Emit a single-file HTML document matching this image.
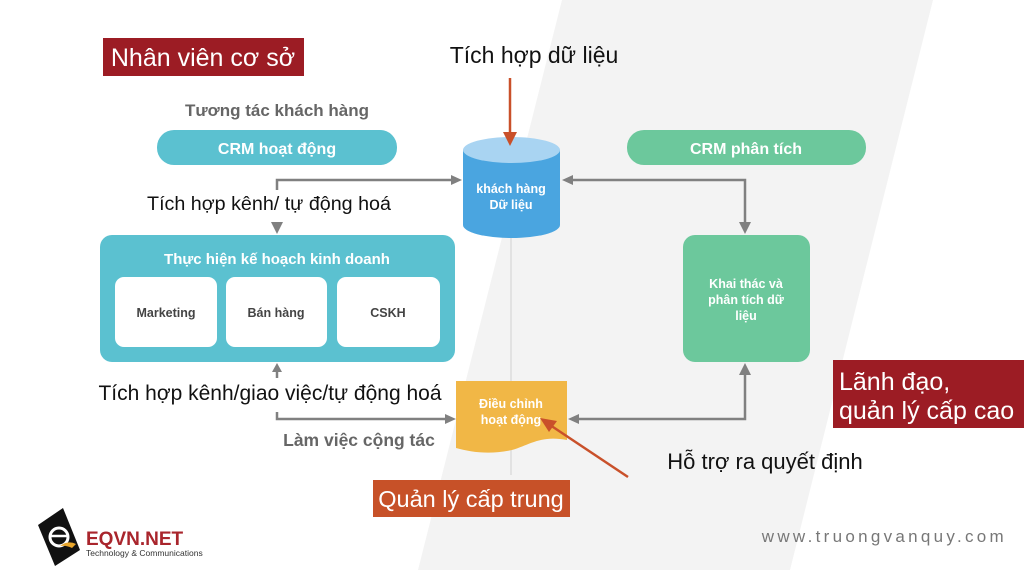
<!DOCTYPE html>
<html><head><meta charset="utf-8"><style>
body{margin:0;width:1024px;height:570px;overflow:hidden;background:#fff;font-family:"Liberation Sans",sans-serif;}
</style></head><body>
<svg width="1024" height="570" viewBox="0 0 1024 570" xmlns="http://www.w3.org/2000/svg" style="position:absolute;left:0;top:0">
<polygon points="562,0 933,0 790,570 418,570" fill="#f3f3f3"/>
<rect x="103" y="38" width="201" height="38" fill="#9c1c24"/>
<text x="203" y="66" font-size="25" fill="#fff" text-anchor="middle">Nhân viên cơ sở</text>
<text x="534" y="63" font-size="23" fill="#111" text-anchor="middle">Tích hợp dữ liệu</text>
<text x="277" y="116" font-size="17" fill="#666" font-weight="bold" text-anchor="middle">Tương tác khách hàng</text>
<rect x="157" y="130" width="240" height="35" rx="17" fill="#5bc1d0"/>
<text x="277" y="154" font-size="16" fill="#fff" font-weight="bold" text-anchor="middle">CRM hoạt động</text>
<rect x="627" y="130" width="239" height="35" rx="17" fill="#6cc89c"/>
<text x="746" y="154" font-size="16" fill="#fff" font-weight="bold" text-anchor="middle">CRM phân tích</text>
<g stroke="#808080" stroke-width="2.5" fill="none">
<polyline points="277,190 277,180 452,180"/>
<polyline points="571,180 745,180 745,224"/>
<polyline points="277,412 277,419 446,419"/>
<polyline points="578,419 745,419 745,374"/>
<line x1="277" y1="378" x2="277" y2="372"/>
</g>
<line x1="511" y1="238" x2="511" y2="475" stroke="#ddd" stroke-width="1.5"/>
<g fill="#808080">
<polygon points="462,180 451,175 451,185"/>
<polygon points="562,180 573,175 573,185"/>
<polygon points="277,234 271,222 283,222"/>
<polygon points="745,234 739,222 751,222"/>
<polygon points="277,363 272,372 282,372"/>
<polygon points="456,419 445,414 445,424"/>
<polygon points="568,419 579,414 579,424"/>
<polygon points="745,363 739,375 751,375"/>
</g>
<path d="M463,150 L463,225 A48.5,13 0 0 0 560,225 L560,150 Z" fill="#4aa5e0"/>
<ellipse cx="511.5" cy="150" rx="48.5" ry="13" fill="#a9d4f2"/>
<text x="511" y="193" font-size="12.5" fill="#fff" font-weight="bold" text-anchor="middle">khách hàng</text>
<text x="511" y="209" font-size="12.5" fill="#fff" font-weight="bold" text-anchor="middle">Dữ liệu</text>
<line x1="510" y1="78" x2="510" y2="134" stroke="#c9502a" stroke-width="2.5"/>
<polygon points="510,146 503,132 517,132" fill="#c9502a"/>
<text x="269" y="210" font-size="19.7" fill="#111" text-anchor="middle">Tích hợp kênh/ tự động hoá</text>
<rect x="100" y="235" width="355" height="127" rx="12" fill="#5bc1d0"/>
<text x="277" y="264" font-size="15" fill="#fff" font-weight="bold" text-anchor="middle">Thực hiện kế hoạch kinh doanh</text>
<rect x="115" y="277" width="102" height="70" rx="9" fill="#fff"/>
<rect x="226" y="277" width="101" height="70" rx="9" fill="#fff"/>
<rect x="337" y="277" width="103" height="70" rx="9" fill="#fff"/>
<g font-size="12.5" fill="#444" font-weight="bold" text-anchor="middle">
<text x="166" y="317">Marketing</text><text x="276" y="317">Bán hàng</text><text x="388" y="317">CSKH</text></g>
<rect x="683" y="235" width="127" height="127" rx="12" fill="#6cc89c"/>
<g font-size="12.5" fill="#fff" font-weight="bold" text-anchor="middle">
<text x="746" y="288">Khai thác và</text><text x="746" y="304">phân tích dữ</text><text x="746" y="320">liệu</text></g>
<text x="270" y="400" font-size="21" fill="#111" text-anchor="middle">Tích hợp kênh/giao việc/tự động hoá</text>
<text x="359" y="446" font-size="17.5" fill="#666" font-weight="bold" text-anchor="middle">Làm việc cộng tác</text>
<path d="M456,381 L567,381 L567,440 C540,435 530,445 512,450 C490,455 470,452 456,448 Z" fill="#f1b746"/>
<g font-size="12.5" fill="#fff" font-weight="bold" text-anchor="middle">
<text x="511" y="408">Điều chỉnh</text><text x="511" y="424">hoạt động</text></g>
<line x1="628" y1="477" x2="550" y2="425" stroke="#c9502a" stroke-width="2.5"/>
<polygon points="540,418 557,421 549,432" fill="#c9502a"/>
<text x="765" y="469" font-size="22" fill="#111" text-anchor="middle">Hỗ trợ ra quyết định</text>
<rect x="833" y="360" width="191" height="68" fill="#9c1c24"/>
<text x="839" y="390" font-size="25" fill="#fff">Lãnh đạo,</text>
<text x="839" y="419" font-size="25" fill="#fff">quản lý cấp cao</text>
<rect x="373" y="480" width="197" height="37" fill="#c75128"/>
<text x="471" y="507" font-size="23.5" fill="#fff" text-anchor="middle">Quản lý cấp trung</text>
<text x="1007" y="542" font-size="17" fill="#777" text-anchor="end" letter-spacing="3.3">www.truongvanquy.com</text>
<polygon points="38,525 63,508 80,550 55,566" fill="#111"/>
<circle cx="59" cy="537" r="9" fill="none" stroke="#fff" stroke-width="3"/>
<line x1="51" y1="536" x2="67" y2="536" stroke="#fff" stroke-width="2.5"/>
<path d="M60,546 Q68,540 76,544 L72,548 Q66,545 60,546Z" fill="#e9a62b"/>
<text x="86" y="545" font-size="19" fill="#a9252c" font-weight="bold">EQVN.NET</text>
<text x="86" y="556" font-size="8.5" fill="#333">Technology &amp; Communications</text>
</svg>
</body></html>
